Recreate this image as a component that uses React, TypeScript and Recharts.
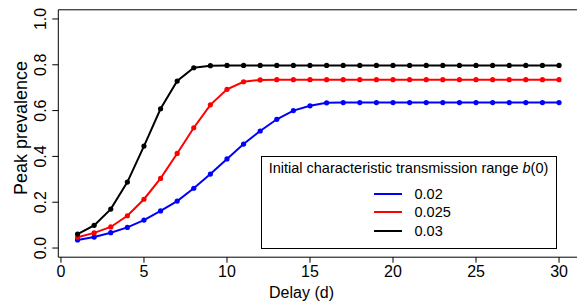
import React from "react";
import { LineChart, Line, XAxis, YAxis, Legend, ReferenceLine } from "recharts";

const delays = [
    1, 2, 3, 4, 5, 6, 7, 8, 9, 10, 11, 12, 13, 14, 15, 16, 17, 18, 19, 20,
    21, 22, 23, 24, 25, 26, 27, 28, 29, 30,
];

// peak prevalence for b(0) = 0.02
const prev002 = [
    0.035, 0.048, 0.067, 0.09, 0.122, 0.162, 0.205, 0.261, 0.323, 0.389,
    0.454, 0.511, 0.562, 0.6, 0.621, 0.634, 0.635, 0.635, 0.635, 0.635,
    0.635, 0.635, 0.635, 0.635, 0.635, 0.635, 0.635, 0.635, 0.635, 0.635,
];

// b(0) = 0.025
const prev0025 = [
    0.047, 0.066, 0.092, 0.141, 0.213, 0.304, 0.413, 0.525, 0.625, 0.693,
    0.726, 0.734, 0.735, 0.735, 0.735, 0.735, 0.735, 0.735, 0.735, 0.735,
    0.735, 0.735, 0.735, 0.735, 0.735, 0.735, 0.735, 0.735, 0.735, 0.735,
];

// b(0) = 0.03
const prev003 = [
    0.061, 0.099, 0.17, 0.288, 0.445, 0.608, 0.729, 0.787, 0.796, 0.797,
    0.797, 0.797, 0.797, 0.797, 0.797, 0.797, 0.797, 0.797, 0.797, 0.797,
    0.797, 0.797, 0.797, 0.797, 0.797, 0.797, 0.797, 0.797, 0.797, 0.797,
];

const xTicks = [0, 5, 10, 15, 20, 25, 30];
const yTicks = [0, 0.2, 0.4, 0.6, 0.8, 1.0];

const series = [
    { key: "b002", name: "0.02", color: "#0000FF" },
    { key: "b0025", name: "0.025", color: "#FF0000" },
    { key: "b003", name: "0.03", color: "#000000" },
];

const data = delays.map((d, i) => ({
    delay: d,
    b002: prev002[i],
    b0025: prev0025[i],
    b003: prev003[i],
}));

const FONT = "'Liberation Sans', Arial, Helvetica, sans-serif";
const X_DOMAIN: [number, number] = [-0.16, 31.16];
const Y_DOMAIN: [number, number] = [-0.04, 1.04];

function YTick({ x, y, payload }: any) {
    return (
        <text
            x={x - 6}
            y={y}
            transform={`rotate(-90, ${x - 6}, ${y})`}
            textAnchor="middle"
            fontSize={16}
            fontFamily={FONT}
            fill="#000"
        >
            {payload.value.toFixed(1)}
        </text>
    );
}

function XTick({ x, y, payload }: any) {
    return (
        <text
            x={x}
            y={y + 12}
            textAnchor="middle"
            fontSize={16}
            fontFamily={FONT}
            fill="#000"
        >
            {payload.value}
        </text>
    );
}

function XTitle() {
    return (
        <text
            x={301.5}
            y={298}
            textAnchor="middle"
            fontSize={16}
            fontFamily={FONT}
            fill="#000"
        >
            Delay (d)
        </text>
    );
}

function YTitle() {
    return (
        <text
            x={26.5}
            y={128}
            transform="rotate(-90, 26.5, 128)"
            textAnchor="middle"
            fontSize={18}
            fontFamily={FONT}
            fill="#000"
        >
            Peak prevalence
        </text>
    );
}

function LegendBox({ payload }: any) {
    return (
        <div
            style={{
                position: "relative",
                width: 296,
                height: 93,
                boxSizing: "border-box",
                border: "1px solid #000",
                background: "#fff",
                fontFamily: FONT,
                fontSize: 14.5,
                color: "#000",
            }}
        >
            <div
                style={{
                    position: "absolute",
                    top: 3,
                    left: 0,
                    width: "100%",
                    textAlign: "center",
                    whiteSpace: "nowrap",
                }}
            >
                Initial characteristic transmission range <i>b</i>(0)
            </div>
            {(payload || []).map((p: any, i: number) => (
                <div
                    key={p.value}
                    style={{
                        position: "absolute",
                        top: 28 + i * 18.4,
                        left: 112,
                        display: "flex",
                        alignItems: "center",
                        height: 18,
                    }}
                >
                    <svg width={28} height={4} style={{ display: "block" }}>
                        <line
                            x1={0}
                            x2={28}
                            y1={2}
                            y2={2}
                            stroke={p.color}
                            strokeWidth={2}
                        />
                    </svg>
                    <span style={{ marginLeft: 13 }}>{p.value}</span>
                </div>
            ))}
        </div>
    );
}

export default function App() {
    return (
        <div
            style={{
                position: "absolute",
                left: 0,
                top: 0,
                width: 577,
                height: 303,
                overflow: "hidden",
                background: "#fff",
            }}
        >
            <LineChart
                width={579}
                height={303}
                data={data}
                margin={{ top: 9.8, right: 0.7, bottom: 0, left: 0 }}
            >
                <XAxis
                    dataKey="delay"
                    type="number"
                    domain={X_DOMAIN}
                    ticks={xTicks}
                    allowDataOverflow
                    height={45.8}
                    axisLine={{ stroke: "#000" }}
                    tickLine={{ stroke: "#000" }}
                    tickSize={5.5}
                    tickMargin={2}
                    tick={<XTick />}
                    label={<XTitle />}
                />
                {/* top edge of the plot box */}
                <XAxis
                    xAxisId="top"
                    orientation="top"
                    dataKey="delay"
                    type="number"
                    domain={X_DOMAIN}
                    allowDataOverflow
                    height={0}
                    axisLine={{ stroke: "#000" }}
                    tick={false}
                    tickLine={false}
                />
                <YAxis
                    type="number"
                    domain={Y_DOMAIN}
                    ticks={yTicks}
                    allowDataOverflow
                    width={58.3}
                    axisLine={{ stroke: "#000" }}
                    tickLine={{ stroke: "#000" }}
                    tickSize={6}
                    tickMargin={0}
                    tick={<YTick />}
                    label={<YTitle />}
                />
                <ReferenceLine
                    y={Y_DOMAIN[1]}
                    stroke="#000"
                    strokeWidth={1}
                    ifOverflow="visible"
                />
                {series.map((s) => (
                    <Line
                        key={s.key}
                        type="linear"
                        dataKey={s.key}
                        name={s.name}
                        stroke={s.color}
                        strokeWidth={2}
                        dot={{ r: 2.6, fill: s.color, stroke: "none" }}
                        activeDot={false}
                        isAnimationActive={false}
                    />
                ))}
                <Legend
                    layout="vertical"
                    align="center"
                    verticalAlign="middle"
                    content={<LegendBox />}
                    wrapperStyle={{
                        left: 260.5,
                        top: 156,
                        width: 296,
                        height: 93,
                    }}
                />
            </LineChart>
        </div>
    );
}
